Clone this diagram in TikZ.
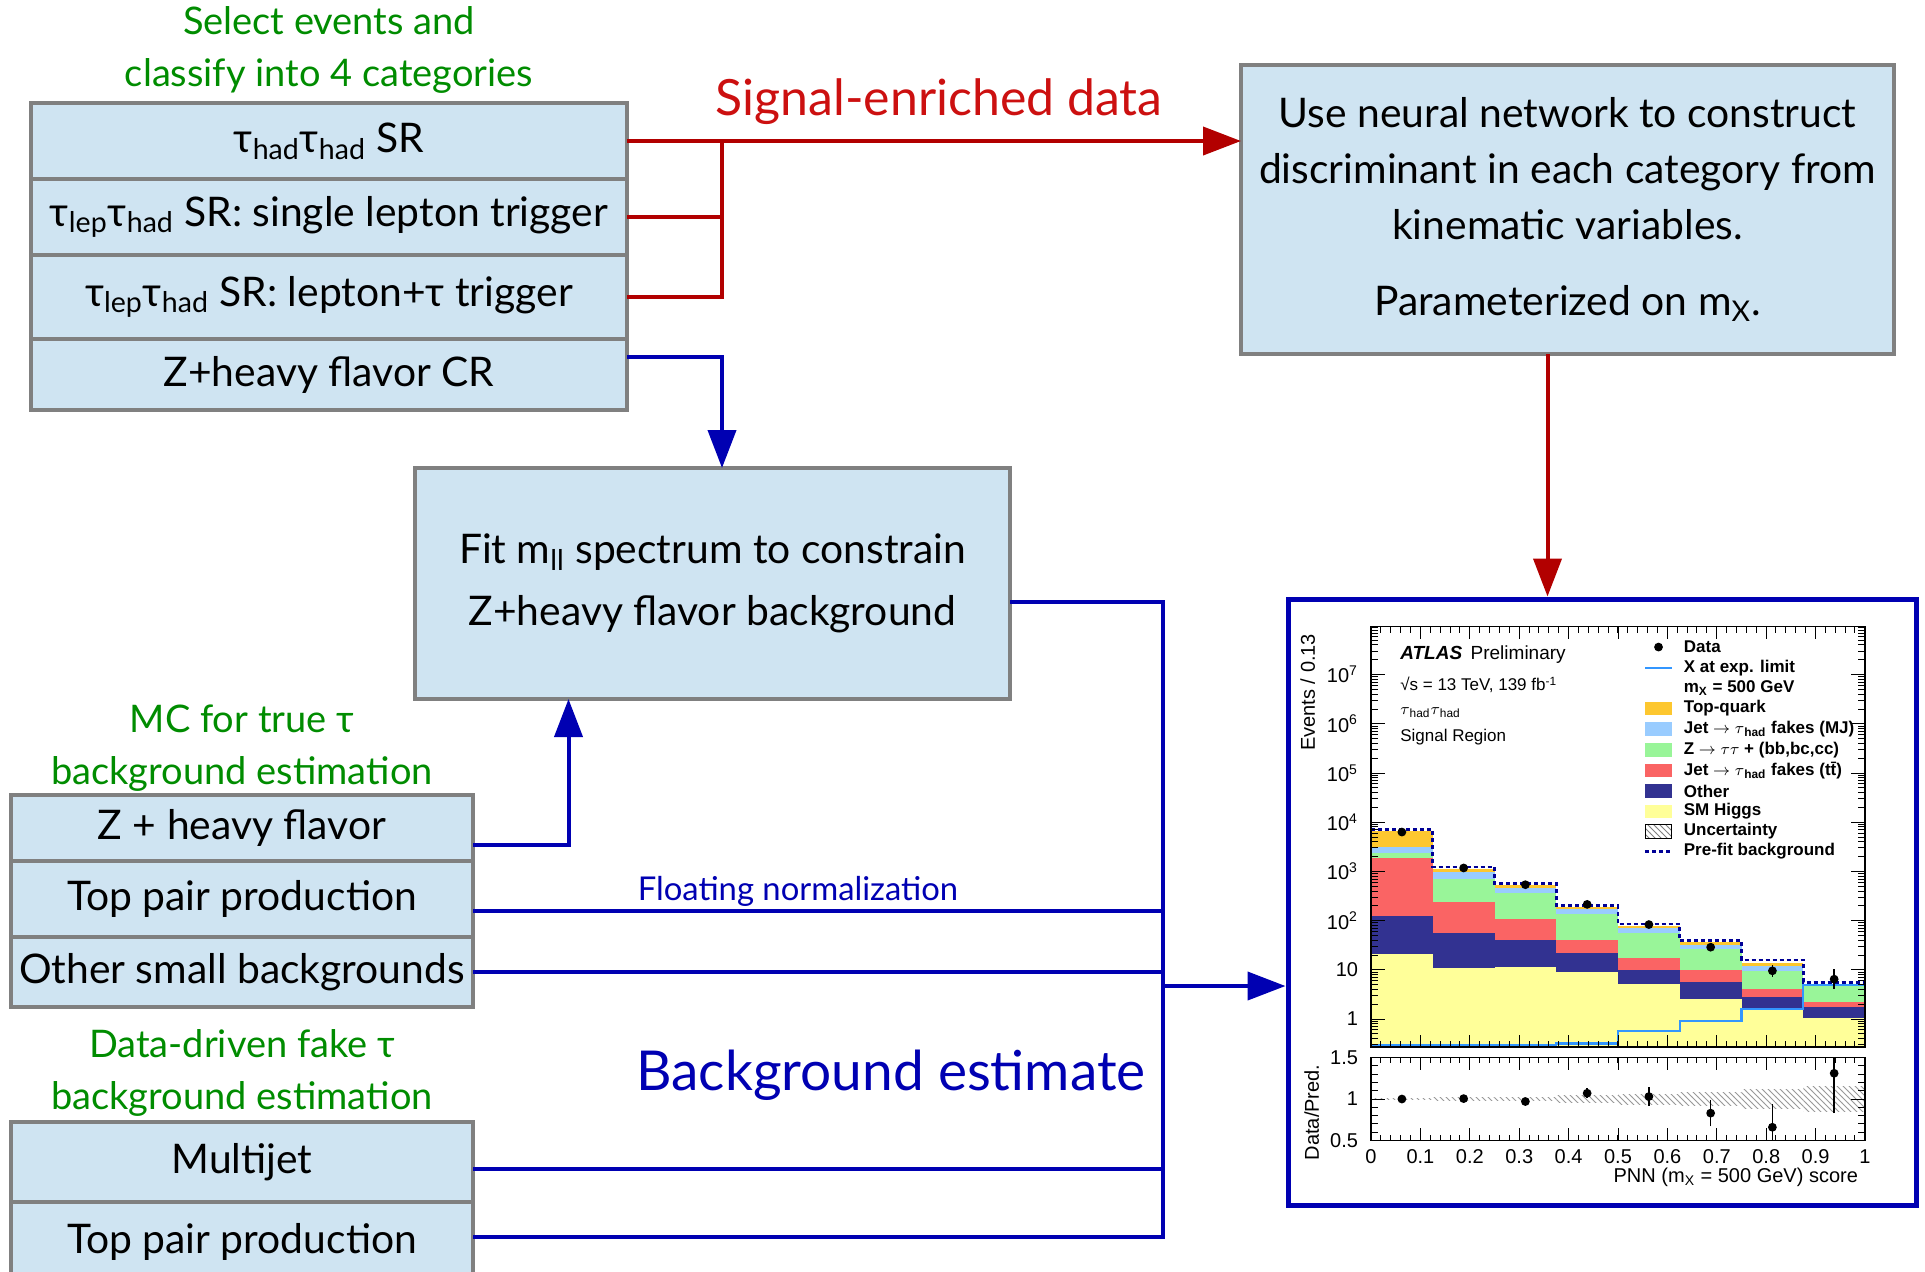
\documentclass[tikz,border=0pt]{standalone}
\usepackage{fontspec}
\setmainfont{Lato}
\newfontfamily\rootfont{Liberation Sans}
\usetikzlibrary{arrows.meta,positioning,patterns}

\definecolor{cellfill}{RGB}{207,228,242}
\definecolor{cellline}{RGB}{128,128,128}
\definecolor{notegreen}{RGB}{0,140,0}
\definecolor{sigred}{RGB}{178,0,0}
\definecolor{sigtext}{RGB}{204,16,16}
\definecolor{bkgblue}{RGB}{0,0,178}
% stack colours of the PNN plot
\definecolor{cTop}{RGB}{253,199,47}
\definecolor{cMJ}{RGB}{153,204,255}
\definecolor{cZtt}{RGB}{153,245,153}
\definecolor{cFake}{RGB}{250,100,100}
\definecolor{cOther}{RGB}{50,50,145}
\definecolor{cHiggs}{RGB}{255,255,153}
\definecolor{cSig}{RGB}{50,150,255}
\definecolor{cPre}{RGB}{0,0,150}

\begin{document}
\begin{tikzpicture}[
  x=0.5pt, y=-0.5pt,
  cell/.style={draw=cellline, fill=cellfill, line width=1.6pt, inner sep=0pt,
    outer sep=0pt, align=center, font=\fontsize{20.4}{28}\selectfont},
  note/.style={text=notegreen, align=center, font=\fontsize{19}{26}\selectfont},
  sigline/.style={sigred, line width=2pt},
  bkgline/.style={bkgblue, line width=2pt},
  rootsmall/.style={font=\rootfont\fontsize{8.5}{10}\selectfont},
  rootlarge/.style={font=\rootfont\fontsize{10}{12}\selectfont},
  >={Triangle[length=19pt,width=14pt]}
]
\useasboundingbox (0,0) rectangle (1925,1271);

% event categories
\node[cell, minimum width=298pt, minimum height=38pt] (hh) at (329,141)
  {τ\textsubscript{had}τ\textsubscript{had} SR};
\node[cell, minimum width=298pt, minimum height=38pt, below=0pt of hh] (lhs)
  {τ\textsubscript{lep}τ\textsubscript{had} SR: single lepton trigger};
\node[cell, minimum width=298pt, minimum height=42pt, below=0pt of lhs] (lht)
  {τ\textsubscript{lep}τ\textsubscript{had} SR: lepton+τ trigger};
\node[cell, minimum width=298pt, minimum height=35.5pt, below=0pt of lht] (zcr)
  {Z+heavy flavor CR};
\node[note] (selnote) at (329,50) {Select events and\\classify into 4 categories};

% NN discriminant
\node[cell, minimum width=326.5pt, minimum height=144.5pt] (nn) at (1567.5,209.5)
  {Use neural network to construct\\discriminant in each category from\\kinematic variables.\\[10pt]Parameterized on m\textsubscript{X}.};

% Z+HF fit
\node[cell, minimum width=297.5pt, minimum height=115.5pt] (fit) at (712.5,583.5)
  {Fit m\textsubscript{ll} spectrum to constrain\\[3pt]Z+heavy flavor background};

% MC backgrounds
\node[cell, minimum width=231pt, minimum height=33pt] (zhf) at (242,828) {Z + heavy flavor};
\node[cell, minimum width=231pt, minimum height=38pt, below=0pt of zhf] (ttmc) {Top pair production};
\node[cell, minimum width=231pt, minimum height=35pt, below=0pt of ttmc] (small) {Other small backgrounds};
\node[note] (mcnote) at (242,748) {MC for true τ\\background estimation};

% data-driven backgrounds
\node[cell, minimum width=231pt, minimum height=40pt] (mj) at (242,1162) {Multijet};
\node[cell, minimum width=231pt, minimum height=40pt, below=0pt of mj] (ttdd) {Top pair production};
\node[note] (ddnote) at (242,1073) {Data-driven fake τ\\background estimation};

% result panel
\node[draw=bkgblue, line width=2.5pt, minimum width=314pt, minimum height=303pt,
      inner sep=0pt] (plot) at (1602,902) {};

% labels on the flows
\node[text=sigtext, font=\fontsize{25}{30}\selectfont] (sigdata) at (939,102) {Signal-enriched data};
\node[text=bkgblue, font=\fontsize{16.4}{20}\selectfont] (floatnorm) at (798,891) {Floating normalization};
\node[text=bkgblue, font=\fontsize{27.5}{32}\selectfont] (bkgest) at (891,1075) {Background estimate};

% signal regions -> NN -> plot
\coordinate (rtrunk) at (722,141);
\draw[sigline,->] (hh.east) -- (hh.east -| nn.west);
\draw[sigline] (lhs.east) -- (lhs.east -| rtrunk);
\draw[sigline] (lht.east) -| (rtrunk);
\coordinate (nnout) at ([xshift=-10pt]nn.south);
\draw[sigline,->] (nnout) -- (nnout |- plot.north);

% control region and Z+HF MC -> fit
\coordinate (crout) at ([yshift=9pt]zcr.east);
\draw[bkgline,->] (crout) -| (fit.north -| rtrunk);
\coordinate (zhfout) at ([yshift=-8.5pt]zhf.east);
\coordinate (fitin) at ([xshift=-72pt]fit.south);
\draw[bkgline,->] (zhfout) -| (fitin);

% background collection
\coordinate (btrunk) at (1163,0);
\coordinate (fitout) at ([yshift=-9pt]fit.east);
\coordinate (ttout) at ([yshift=-6pt]ttmc.east);
\coordinate (mjout) at ([yshift=-3.5pt]mj.east);
\coordinate (ttddout) at ([yshift=2.5pt]ttdd.east);
\draw[bkgline] (fitout) -- (fitout -| btrunk) -- (ttddout -| btrunk) -- (ttddout);
\draw[bkgline] (ttout) -- (ttout -| btrunk);
\draw[bkgline] (small.east) -- (small.east -| btrunk);
\draw[bkgline] (mjout) -- (mjout -| btrunk);
\coordinate (plotin) at ([yshift=-42pt]plot.west);
\draw[bkgline,->] (plotin -| btrunk) -- (plotin);

% ---- PNN score distribution (log scale) ----
\begin{scope}[shift={(1371,1019)}, x=247pt, y=24.6pt, rootsmall]
  \foreach \i/\yH/\yO/\yF/\yZ/\yM/\yT in {
      0/1.32/2.09/3.28/3.37/3.50/3.82, 1/1.04/1.75/2.38/2.85/2.98/3.05,
      2/1.06/1.60/2.03/2.56/2.66/2.72, 3/0.95/1.34/1.60/2.14/2.24/2.28,
      4/0.72/0.99/1.24/1.75/1.85/1.90, 5/0.41/0.75/0.99/1.42/1.50/1.56,
      6/0.20/0.45/0.61/0.98/1.07/1.14, 7/0.02/0.24/0.34/0.67/0.69/0.72} {
    \pgfmathsetmacro{\xl}{\i*0.125}
    \pgfmathsetmacro{\xr}{\i*0.125+0.125}
    \fill[cHiggs] (\xl,-0.57) rectangle (\xr,\yH);
    \fill[cOther] (\xl,\yH) rectangle (\xr,\yO);
    \fill[cFake] (\xl,\yO) rectangle (\xr,\yF);
    \fill[cZtt] (\xl,\yF) rectangle (\xr,\yZ);
    \fill[cMJ] (\xl,\yZ) rectangle (\xr,\yM);
    \fill[cTop] (\xl,\yM) rectangle (\xr,\yT);
  }
  \draw[cSig, line width=1.2pt] (0,-0.54) -| (0.375,-0.50) -| (0.5,-0.24)
    -| (0.625,-0.04) -| (0.75,0.20) -| (0.875,0.69) -- (1,0.69);
  \draw[cPre, line width=1.4pt, dash pattern=on 2pt off 1.5pt] (0,3.85) -| (0.125,3.09)
    -| (0.25,2.76) -| (0.375,2.31) -| (0.5,1.93) -| (0.625,1.60) -| (0.75,1.20)
    -| (0.875,0.75) -- (1,0.75);
  \foreach \s/\v/\e in {0.0625/3.80/0.02, 0.1875/3.07/0.03, 0.3125/2.73/0.03,
      0.4375/2.33/0.04, 0.5625/1.92/0.05, 0.6875/1.46/0.07, 0.8125/0.98/0.12,
      0.9375/0.81/0.2} {
    \draw[line width=0.8pt] (\s,\v-\e) -- (\s,\v+\e);
    \fill (\s,\v) circle (2.2pt);
  }
  % axis ticks
  \begin{scope}
    \clip (0,-0.57) rectangle (1,7.97);
    \foreach \d in {-1,...,7} {
      \draw[line width=0.5pt] (0,\d) -- (0.028,\d) (1,\d) -- (0.972,\d);
      \foreach \k in {2,...,9} {
        \pgfmathsetmacro{\tpos}{\d+log10(\k)}
        \draw[line width=0.5pt] (0,\tpos) -- (0.014,\tpos) (1,\tpos) -- (0.986,\tpos);
      }
    }
  \end{scope}
  \foreach \t in {0.1,0.2,...,0.95}
    \draw[line width=0.5pt] (\t,-0.57) -- (\t,-0.325) (\t,7.97) -- (\t,7.725);
  \foreach \t in {0.02,0.04,...,0.99}
    \draw[line width=0.5pt] (\t,-0.57) -- (\t,-0.45) (\t,7.97) -- (\t,7.85);
  \draw[line width=0.6pt] (0,-0.57) rectangle (1,7.97);
  % axis labels
  \node[rootlarge, anchor=east] (ylab0) at (-0.012,0) {1};
  \node[rootlarge, anchor=east] (ylab1) at (-0.012,1) {10};
  \foreach \d in {2,...,7}
    \node[rootlarge, anchor=east] (ylab\d) at (-0.012,\d) {10\textsuperscript{\d}};
  \node[rootlarge, rotate=90, anchor=east] (ytitle) at (-0.128,7.97) {Events / 0.13};
  % annotations
  \node[anchor=west, font=\rootfont\fontsize{9.5}{11}\selectfont] (atlas) at (0.045,7.40)
    {\textbf{\textit{ATLAS}}\ \,Preliminary};
  \node[anchor=west] (lumi) at (0.045,6.79) {√s = 13 TeV, 139 fb\textsuperscript{-1}};
  \node[anchor=west] (chan) at (0.045,6.22) {$\tau$\textsubscript{had}$\tau$\textsubscript{had}};
  \node[anchor=west] (region) at (0.045,5.73) {Signal Region};
  % legend
  \fill (0.582,7.56) circle (2.2pt);
  \node[anchor=west] (legdata) at (0.619,7.56) {\textbf{Data}};
  \draw[cSig, line width=1.2pt] (0.555,7.14) -- (0.609,7.14);
  \node[anchor=west] (legsig) at (0.619,7.14) {\textbf{X at exp. limit}};
  \node[anchor=west] (legmass) at (0.619,6.72) {\textbf{m\textsubscript{X} = 500 GeV}};
  \foreach \L/\col/\txt [count=\n] in {
      6.31/cTop/{Top-quark},
      5.89/cMJ/{Jet $\rightarrow$ $\tau$\textsubscript{had} fakes (MJ)},
      5.47/cZtt/{Z $\rightarrow$ $\tau\tau$ + (bb,bc,cc)},
      5.05/cFake/{Jet $\rightarrow$ $\tau$\textsubscript{had} fakes (t\={t})},
      4.63/cOther/{Other},
      4.22/cHiggs/{SM Higgs}} {
    \fill[\col] (0.555,\L-0.14) rectangle (0.609,\L+0.14);
    \node[anchor=west] (leg\n) at (0.619,\L) {\textbf{\txt}};
  }
  \draw[pattern=north west lines, pattern color=gray, line width=0.4pt]
    (0.555,3.68) rectangle (0.609,3.96);
  \node[anchor=west] (legunc) at (0.619,3.82) {\textbf{Uncertainty}};
  \draw[cPre, line width=1.4pt, dash pattern=on 2pt off 1.5pt] (0.555,3.41) -- (0.609,3.41);
  \node[anchor=west] (legpre) at (0.619,3.41) {\textbf{Pre-fit background}};
\end{scope}

% ---- ratio panel ----
\begin{scope}[shift={(1371,1099)}, x=247pt, y=41.5pt, rootlarge]
  \foreach \i/\u in {0/0.01,1/0.015,2/0.02,3/0.04,4/0.06,5/0.08,6/0.11,7/0.15}
    \fill[pattern=north west lines, pattern color=gray!80] (\i*0.125,-\u) rectangle (\i*0.125+0.125,\u);
  \begin{scope}
    \clip (0,-0.5) rectangle (1,0.5);
    \foreach \s/\r/\e in {0.0625/0/0, 0.1875/0.005/0, 0.3125/-0.03/0,
        0.4375/0.07/0.06, 0.5625/0.03/0.11, 0.6875/-0.17/0.16,
        0.8125/-0.34/0.28, 0.9375/0.31/0.48} {
      \draw[line width=0.8pt] (\s,\r-\e) -- (\s,\r+\e);
      \fill (\s,\r) circle (2.2pt);
    }
  \end{scope}
  \foreach \r in {-0.4,-0.3,-0.2,-0.1,0.1,0.2,0.3,0.4}
    \draw[line width=0.5pt] (0,\r) -- (0.014,\r) (1,\r) -- (0.986,\r);
  \draw[line width=0.5pt] (0,0) -- (0.028,0) (1,0) -- (0.972,0);
  \foreach \t in {0.1,0.2,...,0.95}
    \draw[line width=0.5pt] (\t,-0.5) -- (\t,-0.355) (\t,0.5) -- (\t,0.355);
  \foreach \t in {0.02,0.04,...,0.99}
    \draw[line width=0.5pt] (\t,-0.5) -- (\t,-0.43) (\t,0.5) -- (\t,0.43);
  \draw[line width=0.6pt] (0,-0.5) rectangle (1,0.5);
  \node[anchor=east] (rlab1) at (-0.012,0.5) {1.5};
  \node[anchor=east] (rlab2) at (-0.012,0) {1};
  \node[anchor=east] (rlab3) at (-0.012,-0.5) {0.5};
  \foreach \t/\lab [count=\n] in {0/0,0.1/0.1,0.2/0.2,0.3/0.3,0.4/0.4,0.5/0.5,
      0.6/0.6,0.7/0.7,0.8/0.8,0.9/0.9,1/1}
    \node[anchor=north] (xlab\n) at (\t,-0.52) {\lab};
  \node[anchor=east] (xtitle) at (1,-0.94) {PNN (m\textsubscript{X} = 500 GeV) score};
  \node[rotate=90, anchor=east] (rtitle) at (-0.12,0.5) {Data/Pred.};
\end{scope}
\end{tikzpicture}
\end{document}
